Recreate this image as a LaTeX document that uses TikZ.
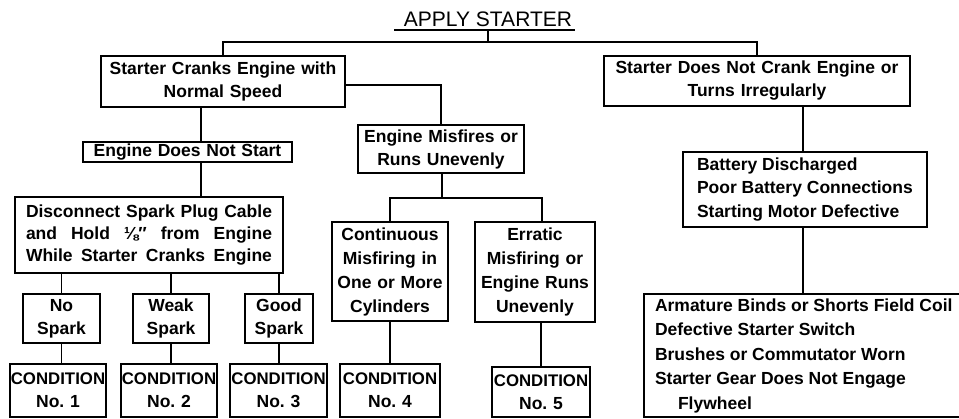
\documentclass[tikz,border=0pt]{standalone}
\usepackage{fontspec}
\setmainfont{Liberation Sans}
\begin{document}
\begin{tikzpicture}[x=1pt,y=-1pt,line width=1.5pt,
  box/.style={draw, line width=1.6pt, inner xsep=0pt, inner ysep=0pt, align=center,
    font=\bfseries\fontsize{17.5}{23}\selectfont},
  lbox/.style={box, align=flush left},
  cond/.style={box, minimum height=53pt}]
\useasboundingbox (0,0) rectangle (959,419);
\clip (0,0) rectangle (959,419);
% title
\node[anchor=base, inner sep=0pt, font=\fontsize{21}{24}\selectfont] (title) at (488,27) {APPLY STARTER};
\draw ([xshift=-9pt,yshift=-3pt]title.base west) -- ([xshift=2pt,yshift=-3pt]title.base east);
\coordinate (tj) at (488,42);
% level 1
\node[box, text width=244pt, minimum height=51pt] (B1) at (223,81.5) {Starter Cranks Engine with\\Normal Speed};
\node[box, text width=306pt, minimum height=50pt] (BR) at (757,81) {Starter Does Not Crank Engine or\\Turns Irregularly};
% left branch
\node[box, text width=166pt, minimum height=48pt] (Mis) at (441,149) {Engine Misfires or\\Runs Unevenly};
\node[box, text width=209pt, minimum height=20pt] (NS) at (187.5,152) {Engine Does Not Start};
\node[box, text width=268pt, minimum height=76pt, font=\bfseries\fontsize{17.5}{22}\selectfont] (Dis) at (149,235)
  {\leavevmode\hbox to 246pt{Disconnect\hfill Spark\hfill Plug\hfill Cable}\\
   \leavevmode\hbox to 246pt{and\hfill Hold\hfill ⅛″\hfill from\hfill Engine}\\
   \leavevmode\hbox to 246pt{While\hfill Starter\hfill Cranks\hfill Engine}};
\node[box, text width=77pt, minimum height=49pt] (S1) at (61.5,318.5) {No\\Spark};
\node[box, text width=76pt, minimum height=49pt] (S2) at (171,318.5) {Weak\\Spark};
\node[box, text width=68pt, minimum height=49pt] (S3) at (279,318.5) {Good\\Spark};
\node[box, text width=116pt, minimum height=99pt, font=\bfseries\fontsize{17.5}{24}\selectfont] (Con) at (390,271.5) {Continuous\\Misfiring in\\One or More\\Cylinders};
\node[box, text width=120pt, minimum height=100pt, font=\bfseries\fontsize{17.5}{24}\selectfont] (Err) at (535,272) {Erratic\\Misfiring or\\Engine Runs\\Unevenly};
% conditions
\node[cond, text width=96pt] (C1) at (58,390.5) {{\fontsize{16.8}{23}\selectfont CONDITION}\\No.\ 1};
\node[cond, text width=96pt] (C2) at (169,390.5) {{\fontsize{16.8}{23}\selectfont CONDITION}\\No.\ 2};
\node[cond, text width=97pt] (C3) at (278.5,390.5) {{\fontsize{16.8}{23}\selectfont CONDITION}\\No.\ 3};
\node[cond, text width=100pt] (C4) at (390,390.5) {{\fontsize{16.8}{23}\selectfont CONDITION}\\No.\ 4};
\node[cond, text width=98pt, minimum height=50pt] (C5) at (541,392) {{\fontsize{16.8}{23}\selectfont CONDITION}\\No.\ 5};
% right branch
\node[lbox, text width=244pt, minimum height=75pt, font=\bfseries\fontsize{17.5}{23.7}\selectfont] (Bat) at (805,189.5)
  {\hspace*{14pt}Battery Discharged\\\hspace*{14pt}Poor Battery Connections\\\hspace*{14pt}Starting Motor Defective};
\node[lbox, text width=331pt, minimum height=123pt, font=\bfseries\fontsize{17.5}{24.5}\selectfont] (Arm) at (809.5,355.5)
  {\hspace*{11pt}Armature Binds or Shorts Field Coil\\\hspace*{11pt}Defective Starter Switch\\\hspace*{11pt}Brushes or Commutator Worn\\\hspace*{11pt}Starter Gear Does Not Engage\\\hspace*{34pt}Flywheel};
% connectors
\draw ([yshift=-3pt]title.base) -- (tj);
\draw (B1.north) |- (tj) -| (BR.north);
\draw ([yshift=-3.5pt]B1.east) -| (Mis.north);
\coordinate (d1) at (201,0);
\draw (B1.south -| d1) -- (NS.north -| d1);
\draw (NS.south -| d1) -- (Dis.north -| d1);
\draw (Dis.south -| S1.north) -- (S1.north);
\draw (Dis.south -| S2.north) -- (S2.north);
\draw (Dis.south -| S3.north) -- (S3.north);
\draw (S1.south) -- (S1.south |- C1.north);
\draw (S2.south) -- (S2.south |- C2.north);
\draw (S3.south) -- (S3.south |- C3.north);
\coordinate (mj) at (442,198);
\coordinate (ej) at (542,0);
\draw (Mis.south -| mj) -- (mj);
\draw (Con.north) |- (mj) -| (Err.north -| ej);
\draw (Con.south) -- (Con.south |- C4.north);
\draw (C5.north) -- (C5.north |- Err.south);
\coordinate (rj) at (803,0);
\draw (BR.south -| rj) -- (Bat.north -| rj);
\draw (Bat.south -| rj) -- (Arm.north -| rj);
\end{tikzpicture}
\end{document}
